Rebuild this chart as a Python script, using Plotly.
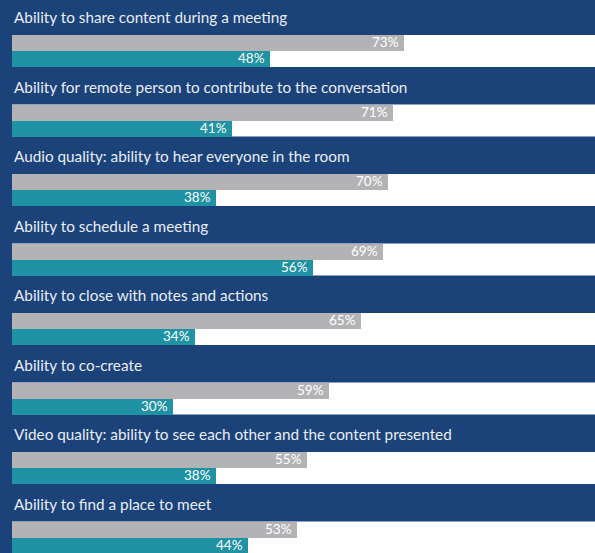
import plotly.graph_objects as go

categories = [
    "Ability to share content during a meeting",
    "Ability for remote person to contribute to the conversation",
    "Audio quality: ability to hear everyone in the room",
    "Ability to schedule a meeting",
    "Ability to close with notes and actions",
    "Ability to co-create",
    "Video quality: ability to see each other and the content presented",
    "Ability to find a place to meet",
]
gray_values = [73, 71, 70, 69, 65, 59, 55, 53]
teal_values = [48, 41, 38, 56, 34, 30, 38, 44]

DARK = "#1b4279"
GRAY = "#b3b3b5"
TEAL = "#1f92a3"

ROW = 69.5  # px per row
BAR = 16 / ROW
n = len(categories)
y_gray = [i for i in range(n)]
y_teal = [i + BAR for i in range(n)]

fig = go.Figure()
fig.add_trace(go.Bar(x=gray_values, y=y_gray, orientation="h", width=BAR,
                     marker=dict(color=GRAY, line=dict(width=0)), hoverinfo="skip"))
fig.add_trace(go.Bar(x=teal_values, y=y_teal, orientation="h", width=BAR,
                     marker=dict(color=TEAL, line=dict(width=0)), hoverinfo="skip"))

shapes = []
annotations = []
for i, cat in enumerate(categories):
    shapes.append(dict(type="rect", xref="paper", yref="y", x0=0, x1=1,
                       y0=i - BAR / 2, y1=i + BAR * 1.5, fillcolor="white",
                       line=dict(width=0), layer="below"))
    annotations.append(dict(x=0, xref="paper", y=i - 26 / ROW, yref="y", text=cat,
                            showarrow=False, xanchor="left", yanchor="middle",
                            font=dict(family="Lato", size=15.3, color="#e9edf4")))
    annotations.append(dict(x=gray_values[i], y=y_gray[i], text=f"{gray_values[i]}%",
                            showarrow=False, xanchor="right", yanchor="middle",
                            xshift=-3, yshift=1,
                            font=dict(family="Lato", size=13.5, color="white")))
    annotations.append(dict(x=teal_values[i], y=y_teal[i], text=f"{teal_values[i]}%",
                            showarrow=False, xanchor="right", yanchor="middle",
                            xshift=-3, yshift=1,
                            font=dict(family="Lato", size=13.5, color="white")))

fig.update_layout(
    width=595, height=553,
    margin=dict(l=12, r=0, t=0, b=0),
    paper_bgcolor=DARK, plot_bgcolor=DARK,
    barmode="overlay", showlegend=False, bargap=0,
    xaxis=dict(range=[0, 583 / 5.37], visible=False, fixedrange=True),
    yaxis=dict(range=[(553 - 43) / ROW, -43 / ROW], visible=False, fixedrange=True),
    shapes=shapes, annotations=annotations,
)

fig.write_html("out.html")
